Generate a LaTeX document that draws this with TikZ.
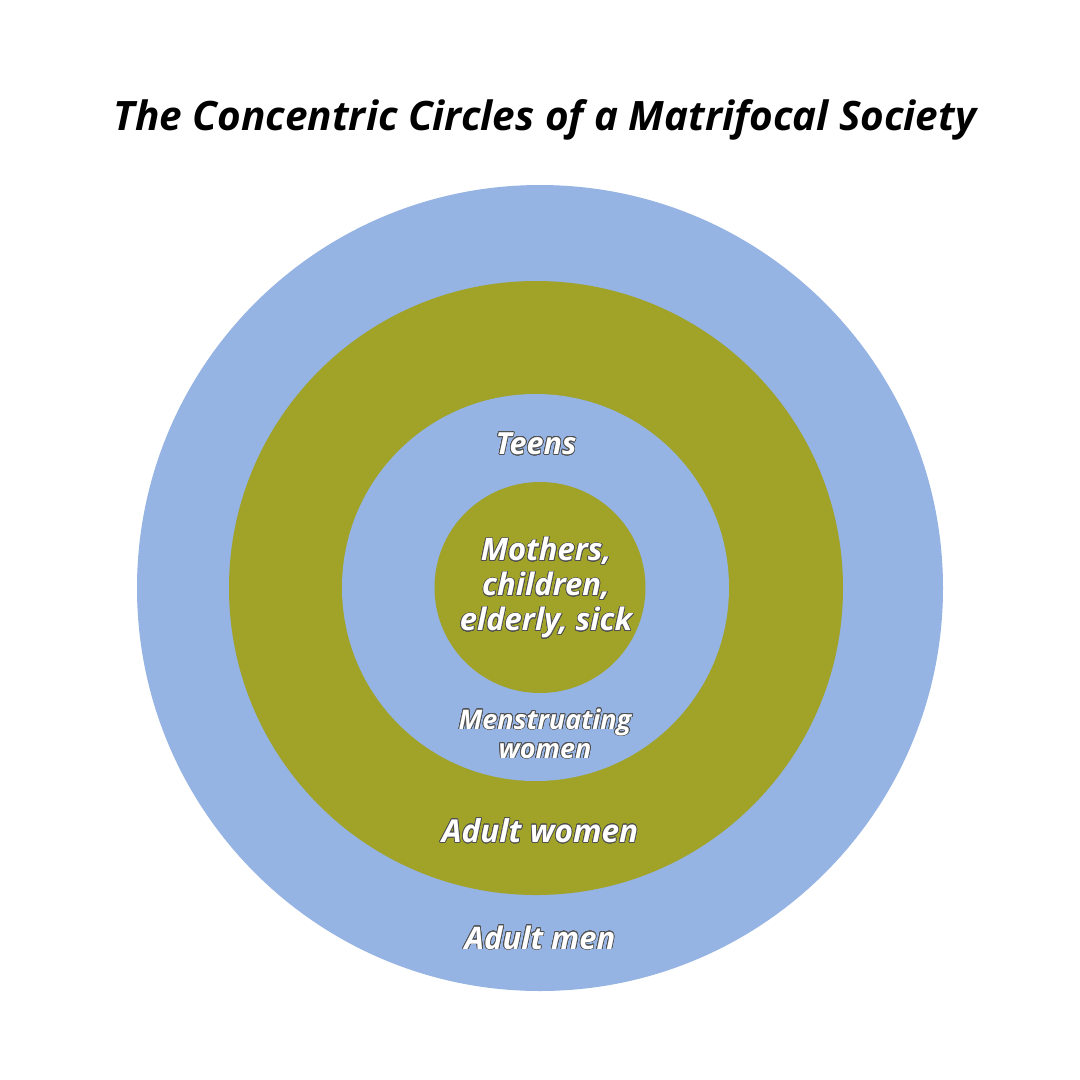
\documentclass[tikz,border=0pt]{standalone}
\usepackage{fontspec}
\setmainfont{Open Sans}
\usepackage{contour}
\contourlength{0.7pt}
\contournumber{24}
\definecolor{ringblue}{HTML}{95B3E3}
\definecolor{ringolive}{HTML}{A0A328}
\definecolor{outl}{HTML}{505050}
\newcommand{\lbl}[1]{\contour{outl}{\textcolor{white}{#1}}}
\begin{document}
\begin{tikzpicture}[x=1pt,y=-1pt,
  lab/.style={font=\bfseries\itshape, align=center, inner sep=0pt}]
\useasboundingbox (0,0) rectangle (1080,1080);
\fill[white] (0,0) rectangle (1080,1080);
\node[font=\fontsize{40.5}{48}\selectfont\bfseries\itshape, inner sep=0pt] (title) at (545,120) {The Concentric Circles of a Matrifocal Society};
\fill[ringblue] (540,588) circle (403);
\fill[ringolive] (536,588) circle (307);
\fill[ringblue] (535.5,587.5) circle (193.5);
\fill[ringolive] (540,587.5) circle (105.5);
\node[lab, font=\fontsize{30.5}{35}\selectfont\bfseries\itshape] (teens) at (536,444) {\lbl{Teens}};
\node[lab, font=\fontsize{31}{35}\selectfont\bfseries\itshape] (core) at (546,588) {\lbl{Mothers,}\\\lbl{children,}\\\lbl{elderly, sick}};
\node[lab, font=\fontsize{27}{29}\selectfont\bfseries\itshape] (mens) at (545,734) {\lbl{Menstruating}\\\lbl{women}};
\node[lab, font=\fontsize{31.5}{35}\selectfont\bfseries\itshape] (women) at (540,831) {\lbl{Adult women}};
\node[lab, font=\fontsize{31}{35}\selectfont\bfseries\itshape] (men) at (540,938) {\lbl{Adult men}};
\end{tikzpicture}
\end{document}
